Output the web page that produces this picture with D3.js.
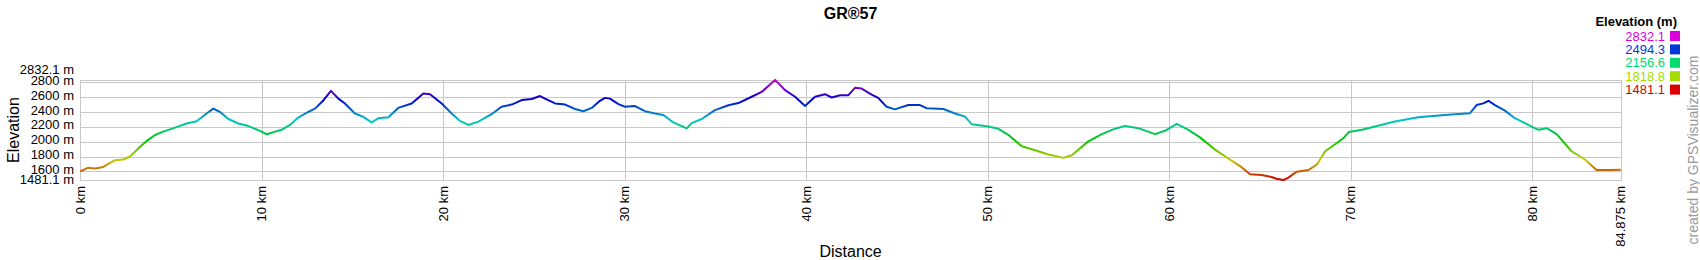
<!DOCTYPE html>
<html>
<head>
<meta charset="utf-8">
<script src="https://cdn.jsdelivr.net/npm/d3@7"></script>
<style>
    body { margin: 0; background: #fff; }
    svg text { font-family: "Liberation Sans", Arial, sans-serif; }
</style>
</head>
<body>
<svg id="chart" width="1700" height="260"></svg>
<script>
// distance along the route (km) and elevation (m)
var distKm = [0, 0.44, 0.81, 1.27, 1.54, 1.91, 2.37, 2.74, 3.2, 3.66, 4.12, 4.57, 5.22, 5.86, 6.41, 6.96,
    7.33, 7.7, 8.16, 8.71, 9.26, 9.9, 10.27, 10.73, 11.09, 11.55, 12.01, 12.56, 12.93, 13.39, 13.81,
    14.22, 14.58, 15.13, 15.59, 16.05, 16.42, 16.97, 17.52, 18.26, 18.9, 19.27, 19.91, 20.46, 20.92,
    21.38, 21.93, 22.66, 23.21, 23.77, 24.32, 24.87, 25.33, 25.6, 26.16, 26.71, 27.26, 27.72, 28.18,
    28.63, 28.91, 29.18, 29.65, 30.01, 30.56, 31.11, 31.66, 32.12, 32.67, 33.41, 33.68, 34.24, 34.97,
    35.71, 36.26, 36.99, 37.54, 38.28, 38.83, 39.38, 39.93, 40.48, 41.03, 41.4, 41.86, 42.32, 42.68,
    43.05, 43.6, 43.96, 44.42, 44.88, 45.62, 46.26, 46.63, 47.55, 48.19, 48.74, 49.11, 50.03, 50.58,
    51.13, 51.87, 52.6, 53.34, 54.16, 54.62, 55.54, 56.28, 57.01, 57.56, 58.29, 59.21, 59.76, 60.41,
    61.05, 61.69, 62.52, 63.25, 63.9, 64.45, 65.09, 65.64, 65.9, 66.29, 66.56, 67.02, 67.67, 68.13,
    68.59, 69.23, 69.6, 69.88, 70.61, 71.33, 72.43, 73.72, 75.19, 76.56, 76.93, 77.3, 77.58, 77.94,
    78.49, 79.04, 79.78, 80.33, 80.79, 81.34, 82.16, 82.9, 83.54, 84.18, 84.875];
var elevM = [1600, 1650, 1640, 1660, 1700, 1750, 1760, 1800, 1910, 2010, 2090, 2135, 2190, 2245, 2275, 2380,
    2445, 2400, 2305, 2245, 2210, 2145, 2100, 2135, 2160, 2225, 2325, 2400, 2445, 2555, 2685,
    2580, 2515, 2380, 2335, 2260, 2315, 2330, 2455, 2515, 2650, 2640, 2515, 2380, 2280,
    2225, 2270, 2370, 2470, 2500, 2560, 2575, 2615, 2580, 2515, 2500, 2440, 2410, 2455,
    2550, 2590, 2580, 2505, 2470, 2480, 2410, 2380, 2360, 2260, 2180, 2250, 2305, 2425,
    2490, 2520, 2605, 2670, 2832, 2695, 2605, 2480, 2605, 2640, 2595, 2625, 2627, 2725,
    2715, 2635, 2590, 2470, 2435, 2493, 2493, 2450, 2440, 2380, 2338, 2236, 2204, 2173,
    2093, 1938, 1884, 1827, 1782, 1818, 2004, 2102, 2175, 2213, 2182, 2102, 2147, 2240,
    2160, 2058, 1893, 1773, 1671, 1560, 1551, 1524, 1500, 1483, 1516, 1596, 1618, 1693,
    1871, 1982, 2049, 2129, 2160, 2204, 2271, 2329, 2360, 2382, 2493, 2516, 2551, 2493,
    2418, 2316, 2227, 2160, 2182, 2102, 1871, 1760, 1618, 1618, 1622];

var elevMin = 1481.1, elevMax = 2832.1, totalKm = 84.875;
var yTicks = [1600, 1800, 2000, 2200, 2400, 2600, 2800];
var xTicks = [0, 10, 20, 30, 40, 50, 60, 70, 80];
var legendValues = [2832.1, 2494.3, 2156.6, 1818.8, 1481.1];

var svg = d3.select("#chart");
var plotLeft = 80.3, plotRight = 1620.8, plotTop = 79.9, plotBottom = 180.2;

var x = d3.scaleLinear().domain([0, totalKm]).range([plotLeft, plotRight]);
var y = d3.scaleLinear().domain([elevMin, elevMax]).range([plotBottom, plotTop]);

// red -> yellow -> green -> blue -> magenta by elevation
function elevColor(v) {
    var t = (v - elevMin) / (elevMax - elevMin);
    return d3.hsl(300 * t, 1, 0.43).formatHex();
}

var defs = svg.append("defs");
var grad = defs.append("linearGradient")
    .attr("id", "elevGrad")
    .attr("gradientUnits", "userSpaceOnUse")
    .attr("x1", 0).attr("x2", 0)
    .attr("y1", y(elevMin)).attr("y2", y(elevMax));
d3.range(0, 1.0001, 0.05).forEach(function (t) {
    // line is drawn a touch darker than the legend swatches
    grad.append("stop")
        .attr("offset", t)
        .attr("stop-color", d3.hsl(elevColor(elevMin + t * (elevMax - elevMin))).darker(0.25).formatHex());
});

// grid
var grid = svg.append("g").attr("stroke", "#c8c8c8").attr("stroke-width", 1).attr("shape-rendering", "crispEdges");
grid.selectAll(".hgrid")
    .data(yTicks)
    .enter().append("line")
    .attr("x1", plotLeft).attr("x2", plotRight)
    .attr("y1", function (d) { return Math.round(y(d)) + 0.5; })
    .attr("y2", function (d) { return Math.round(y(d)) + 0.5; });
grid.selectAll(".vgrid")
    .data(xTicks.concat([totalKm]))
    .enter().append("line")
    .attr("y1", plotTop).attr("y2", plotBottom)
    .attr("x1", function (d) { return Math.round(x(d)) + 0.5; })
    .attr("x2", function (d) { return Math.round(x(d)) + 0.5; });
grid.append("rect")
    .attr("x", Math.round(plotLeft) + 0.5).attr("y", Math.round(plotTop) + 0.5)
    .attr("width", Math.round(plotRight) - Math.round(plotLeft))
    .attr("height", Math.round(plotBottom) - Math.round(plotTop))
    .attr("fill", "none");

// profile line
var pts = distKm.map(function (d, i) { return [d, elevM[i]]; });
var line = d3.line()
    .x(function (d) { return x(d[0]); })
    .y(function (d) { return y(d[1]); });
svg.append("path")
    .datum(pts)
    .attr("d", line)
    .attr("fill", "none")
    .attr("stroke", "url(#elevGrad)")
    .attr("stroke-width", 2)
    .attr("stroke-linejoin", "round");

// y tick labels
var yLab = svg.append("g").attr("font-size", 13).attr("text-anchor", "end").attr("fill", "#000");
yLab.selectAll("text")
    .data(yTicks)
    .enter().append("text")
    .attr("x", 74)
    .attr("y", function (d) { return y(d) - 2; })
    .attr("dy", "0.35em")
    .text(function (d) { return d + " m"; });
yLab.append("text").attr("x", 74).attr("y", y(elevMax) - 10.5).attr("dy", "0.35em").text(elevMax + " m");
yLab.append("text").attr("x", 74).attr("y", y(elevMin) - 0.5).attr("dy", "0.35em").text(elevMin + " m");

// x tick labels, rotated
var xLab = svg.append("g").attr("font-size", 13).attr("text-anchor", "end").attr("fill", "#000");
xLab.selectAll("text")
    .data(xTicks.concat([totalKm]))
    .enter().append("text")
    .attr("transform", function (d) { return "translate(" + x(d) + ",186) rotate(-90)"; })
    .attr("dy", "0.35em")
    .text(function (d) { return d + " km"; });

// titles
svg.append("text")
    .attr("x", (plotLeft + plotRight) / 2).attr("y", 19)
    .attr("text-anchor", "middle")
    .attr("font-size", 16).attr("font-weight", "bold")
    .text("GR\u00AE57");
svg.append("text")
    .attr("transform", "translate(19," + (plotTop + plotBottom) / 2 + ") rotate(-90)")
    .attr("text-anchor", "middle")
    .attr("font-size", 16)
    .text("Elevation");
svg.append("text")
    .attr("x", (plotLeft + plotRight) / 2).attr("y", 257)
    .attr("text-anchor", "middle")
    .attr("font-size", 16)
    .text("Distance");

// legend
var lg = svg.append("g");
lg.append("text")
    .attr("x", 1677).attr("y", 26)
    .attr("text-anchor", "end")
    .attr("font-size", 13).attr("font-weight", "bold")
    .text("Elevation (m)");
var rows = lg.selectAll(".row")
    .data(legendValues)
    .enter().append("g")
    .attr("transform", function (d, i) { return "translate(0," + (40.5 + i * 13.4) + ")"; });
rows.append("text")
    .attr("x", 1665)
    .attr("text-anchor", "end")
    .attr("font-size", 13)
    .attr("fill", function (d) { return elevColor(d); })
    .text(function (d) { return d.toFixed(1); });
rows.append("rect")
    .attr("x", 1670).attr("y", -9.5)
    .attr("width", 10).attr("height", 10)
    .attr("fill", function (d) { return elevColor(d); });

// credit
svg.append("text")
    .attr("transform", "translate(1698,150) rotate(-90)")
    .attr("text-anchor", "middle")
    .attr("font-size", 14)
    .attr("fill", "#999")
    .text("created by  GPSVisualizer.com");
</script>
</body>
</html>
